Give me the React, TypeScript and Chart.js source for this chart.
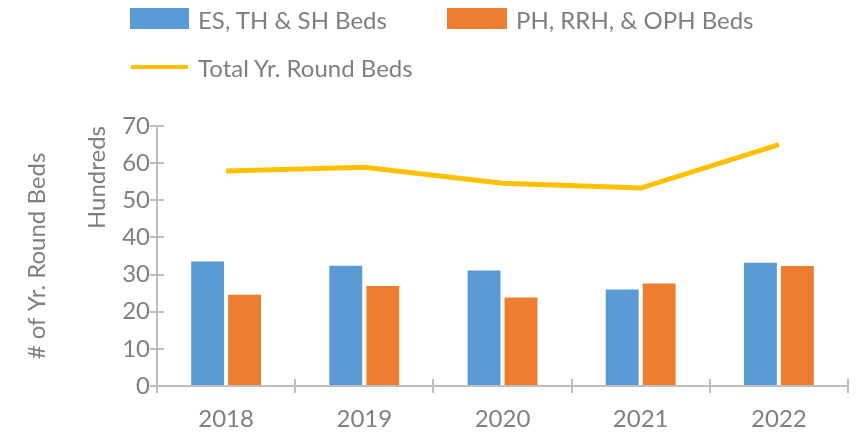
import React, { useEffect, useRef } from "react";
import { Chart, registerables } from "chart.js";

Chart.register(...registerables);

const categories = ["2018", "2019", "2020", "2021", "2022"];
const shelterBeds = [33.5, 32.4, 31.1, 26.0, 33.2];
const permanentBeds = [24.6, 26.9, 23.8, 27.6, 32.3];
const totalBeds = [57.9, 58.9, 54.6, 53.3, 65.0];
const seriesLabels = ["ES, TH & SH Beds", "PH, RRH, & OPH Beds", "Total Yr. Round Beds"];
const seriesColors = ["#5B9BD5", "#ED7D31", "#FFC000"];
const yAxisTitle = "# of Yr. Round Beds";
const unitLabel = "Hundreds";

const FONT = "Lato, 'Open Sans', sans-serif";
const FS = 24;
const TEXT = "#7F7F7F";
const AXIS = "#BFBFBF";

const crossTicks = {
  id: "crossTicks",
  afterDraw(chart: any) {
    const { ctx, chartArea } = chart;
    const x = chart.scales.x;
    const y = chart.scales.y;
    ctx.save();
    ctx.strokeStyle = AXIS;
    ctx.lineWidth = 2;
    ctx.beginPath();
    y.ticks.forEach((t: any) => {
      const py = Math.round(y.getPixelForValue(t.value));
      ctx.moveTo(chartArea.left, py);
      ctx.lineTo(chartArea.left + 7, py);
    });
    for (let i = 0; i <= categories.length; i++) {
      const px = Math.round(x.getPixelForValue(i - 0.5));
      ctx.moveTo(px, chartArea.bottom);
      ctx.lineTo(px, chartArea.bottom - 7);
    }
    ctx.stroke();
    // axis titles
    ctx.fillStyle = TEXT;
    ctx.font = `${FS}px ${FONT}`;
    ctx.textBaseline = "middle";
    ctx.save();
    ctx.translate(29, (chartArea.top + chartArea.bottom) / 2);
    ctx.rotate(-Math.PI / 2);
    ctx.textAlign = "center";
    ctx.fillText(yAxisTitle, 0, 0);
    ctx.restore();
    ctx.save();
    ctx.translate(89, chartArea.top);
    ctx.rotate(-Math.PI / 2);
    ctx.textAlign = "right";
    ctx.fillText(unitLabel, 0, 0);
    ctx.restore();
    ctx.restore();
  },
};

export default function App() {
  const ref = useRef<HTMLCanvasElement | null>(null);
  useEffect(() => {
    if (!ref.current) return;
    const chart = new Chart(ref.current, {
      type: "bar",
      data: {
        labels: categories,
        datasets: [
          {
            type: "line",
            label: seriesLabels[2],
            data: totalBeds,
            borderColor: seriesColors[2],
            backgroundColor: seriesColors[2],
            borderWidth: 5,
            pointRadius: 0,
            tension: 0,
            order: 0,
          } as any,
          {
            label: seriesLabels[0],
            data: shelterBeds,
            backgroundColor: seriesColors[0],
            categoryPercentage: 0.535,
            barPercentage: 0.89,
            order: 1,
          },
          {
            label: seriesLabels[1],
            data: permanentBeds,
            backgroundColor: seriesColors[1],
            categoryPercentage: 0.535,
            barPercentage: 0.89,
            order: 1,
          },
        ],
      },
      options: {
        animation: false,
        responsive: false,
        maintainAspectRatio: false,
        layout: { padding: { top: 118, right: 7, left: 0, bottom: 0 } },
        plugins: { legend: { display: false }, tooltip: { enabled: false }, title: { display: false } },
        scales: {
          x: {
            offset: true,
            grid: { display: true, drawOnChartArea: false, drawTicks: true, tickLength: 7, color: AXIS, lineWidth: 2, offset: true },
            border: { display: true, color: AXIS, width: 2 },
            ticks: { color: TEXT, font: { family: FONT, size: FS }, padding: 12, maxRotation: 0 },
            afterFit: (s: any) => { s.height = 42; },
          },
          y: {
            min: 0,
            max: 70,
            ticks: { stepSize: 10, color: TEXT, font: { family: FONT, size: FS }, padding: 0 },
            grid: { display: true, drawOnChartArea: false, drawTicks: true, tickLength: 7, color: AXIS, lineWidth: 2 },
            border: { display: true, color: AXIS, width: 2 },
            afterFit: (s: any) => { s.width = 149; },
          },
        },
      },
      plugins: [crossTicks],
    });
    return () => chart.destroy();
  }, []);

  const legendText: React.CSSProperties = {
    position: "absolute",
    fontFamily: FONT,
    fontSize: FS,
    color: TEXT,
    lineHeight: "21px",
    whiteSpace: "nowrap",
  };

  return (
    <div style={{ position: "relative", width: 847, height: 420 }}>
      <canvas ref={ref} width={847} height={420} style={{ display: "block" }} />
      <div style={{ position: "absolute", left: 122, top: 0, width: 59, height: 21, background: seriesColors[0] }} />
      <div style={{ ...legendText, left: 190, top: 1 }}>{seriesLabels[0]}</div>
      <div style={{ position: "absolute", left: 439, top: 0, width: 60, height: 21, background: seriesColors[1] }} />
      <div style={{ ...legendText, left: 508, top: 1 }}>{seriesLabels[1]}</div>
      <div style={{ position: "absolute", left: 123, top: 57, width: 57, height: 4, background: seriesColors[2] }} />
      <div style={{ ...legendText, left: 190, top: 49 }}>{seriesLabels[2]}</div>
    </div>
  );
}
